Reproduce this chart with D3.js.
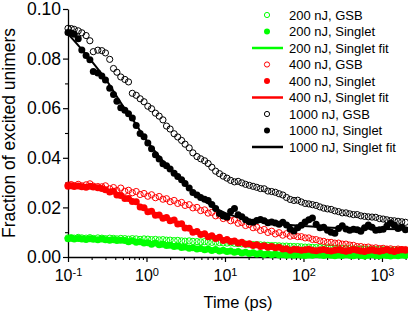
<!DOCTYPE html>
<html>
<head>
<meta charset="utf-8">
<script src="https://cdn.jsdelivr.net/npm/d3@7"></script>
<style>
body { margin: 0; background: #fff; }
svg text { font-family: Arial, "Liberation Sans", sans-serif; fill: #000; }
</style>
</head>
<body>
<svg id="chart" width="408" height="314"></svg>
<script>
// delay times (ps), shared by all measured series
const times = [0.10,0.11,0.12,0.135,0.15,0.17,0.19,0.21,0.24,0.27,0.30,0.34,0.38,0.42,0.47,0.53,0.59,0.66,0.74,0.83,
  0.93,1.04,1.16,1.3,1.45,1.62,1.8,2.0,2.25,2.5,2.8,3.1,3.5,3.9,4.4,4.9,5.5,6.1,6.8,7.6,
  8.5,9.5,10.6,11.8,13.2,14.7,16.4,18.3,20.4,22.8,25.4,28.3,31.6,35.2,39.3,43.8,48.9,54.5,60.8,67.8,
  75.6,84.3,94,105,117,130,145,162,181,202,225,251,280,312,348,388,433,483,538,600,
  670,747,833,929,1036,1155,1288,1437,1602,1787,1993];

const gsb200 = [0.0077,0.0078,0.0076,0.0079,0.0077,0.0076,0.0078,0.0075,0.0077,0.0076,
  0.0074,0.0076,0.0075,0.0073,0.0075,0.0074,0.0072,0.0074,0.0073,0.0071,
  0.0073,0.0072,0.0070,0.0071,0.0069,0.0070,0.0068,0.0068,0.0066,0.0067,
  0.0065,0.0064,0.0065,0.0063,0.0062,0.0061,0.0062,0.0060,0.0059,0.0060,
  0.0058,0.0057,0.0056,0.0057,0.0055,0.0054,0.0053,0.0052,0.0051,0.0050,
  0.0050,0.0049,0.0048,0.0047,0.0046,0.0046,0.0045,0.0044,0.0044,0.0043,
  0.0042,0.0042,0.0041,0.0040,0.0040,0.0039,0.0038,0.0038,0.0037,0.0037,
  0.0036,0.0035,0.0035,0.0034,0.0034,0.0033,0.0033,0.0032,0.0032,0.0031,
  0.0031,0.0030,0.0030,0.0029,0.0029,0.0029,0.0028,0.0028,0.0028,0.0027,0.0027];

const singlet200 = [0.0074,0.0076,0.0073,0.0075,0.0073,0.0071,0.0074,0.0072,0.0070,0.0073,
  0.0070,0.0068,0.0070,0.0067,0.0068,0.0067,0.0061,0.0066,0.0059,0.0061,
  0.0056,0.0057,0.0051,0.0056,0.0049,0.0051,0.0046,0.0047,0.0042,0.0044,
  0.0038,0.0040,0.0035,0.0037,0.0032,0.0034,0.0029,0.0032,0.0026,0.0030,
  0.0024,0.0027,0.0022,0.0024,0.0019,0.0022,0.0016,0.0019,0.0014,0.0017,
  0.0012,0.0015,0.0010,0.0013,0.0009,0.0012,0.0008,0.0010,0.0007,0.0009,
  0.0007,0.0009,0.0007,0.0006,0.0008,0.0007,0.0010,0.0008,0.0006,0.0009,
  0.0007,0.0005,0.0008,0.0006,0.0009,0.0007,0.0005,0.0008,0.0006,0.0004,
  0.0007,0.0009,0.0006,0.0005,0.0008,0.0006,0.0004,0.0007,0.0005,0.0008,0.0006];

const gsb400 = [0.0290,0.0292,0.0288,0.0293,0.0287,0.0291,0.0295,0.0286,0.0284,0.0283,
  0.0287,0.0275,0.0280,0.0268,0.0278,0.0265,0.0269,0.0259,0.0264,0.0252,
  0.0256,0.0245,0.0251,0.0239,0.0244,0.0233,0.0235,0.0223,0.0228,0.0216,
  0.0220,0.0208,0.0211,0.0198,0.0200,0.0187,0.0190,0.0177,0.0180,0.0166,
  0.0169,0.0155,0.0158,0.0146,0.0149,0.0136,0.0139,0.0127,0.0131,0.0118,
  0.0120,0.0107,0.0111,0.0099,0.0104,0.0093,0.0098,0.0088,0.0094,0.0084,
  0.0087,0.0082,0.0082,0.0077,0.0077,0.0071,0.0070,0.0065,0.0063,0.0059,
  0.0059,0.0056,0.0056,0.0052,0.0052,0.0048,0.0047,0.0042,0.0042,0.0039,
  0.0040,0.0036,0.0037,0.0034,0.0035,0.0032,0.0033,0.0030,0.0032,0.0029,0.0030];

const singlet400 = [0.0285,0.0287,0.0284,0.0286,0.0283,0.0281,0.0285,0.0282,0.0279,0.0276,
  0.0271,0.0262,0.0265,0.0250,0.0248,0.0236,0.0236,0.0224,0.0223,0.0202,
  0.0199,0.0182,0.0184,0.0168,0.0169,0.0156,0.0159,0.0146,0.0149,0.0133,
  0.0134,0.0117,0.0116,0.0100,0.0103,0.0091,0.0094,0.0082,0.0086,0.0075,
  0.0080,0.0067,0.0071,0.0062,0.0065,0.0056,0.0059,0.0051,0.0053,0.0046,
  0.0049,0.0042,0.0045,0.0039,0.0042,0.0037,0.0039,0.0032,0.0033,0.0027,
  0.0031,0.0030,0.0027,0.0029,0.0031,0.0027,0.0025,0.0028,0.0030,0.0026,
  0.0024,0.0027,0.0029,0.0026,0.0023,0.0026,0.0030,0.0027,0.0024,0.0022,
  0.0026,0.0028,0.0025,0.0023,0.0026,0.0029,0.0025,0.0022,0.0026,0.0030,0.0027];

const gsb1000 = [0.0922,0.0921,0.0918,0.0912,0.0904,0.0893,0.0872,0.0828,0.0834,0.0832,
  0.0823,0.0797,0.0760,0.0745,0.0726,0.0716,0.0706,0.0660,0.0652,0.0638,
  0.0626,0.0608,0.0598,0.0580,0.0568,0.0553,0.0528,0.0516,0.0497,0.0484,
  0.0470,0.0455,0.0440,0.0420,0.0405,0.0396,0.0388,0.0377,0.0362,0.0346,
  0.0336,0.0326,0.0318,0.0309,0.0303,0.0305,0.0299,0.0293,0.0289,0.0285,
  0.0281,0.0276,0.0275,0.0266,0.0264,0.0261,0.0255,0.0250,0.0240,0.0232,
  0.0228,0.0229,0.0222,0.0216,0.0214,0.0211,0.0208,0.0202,0.0197,0.0194,
  0.0192,0.0186,0.0183,0.0178,0.0178,0.0174,0.0171,0.0171,0.0166,0.0164,
  0.0162,0.0161,0.0160,0.0155,0.0153,0.0150,0.0147,0.0146,0.0144,0.0142,0.0140];

const singlet1000 = [0.0905,0.0903,0.0898,0.0880,0.0835,0.0812,0.0795,0.0748,0.0742,0.0730,
  0.0714,0.0680,0.0655,0.0628,0.0602,0.0592,0.0578,0.0560,0.0530,0.0498,
  0.0485,0.0460,0.0436,0.0412,0.0395,0.0376,0.0368,0.0355,0.0338,0.0325,
  0.0311,0.0296,0.0278,0.0260,0.0250,0.0240,0.0233,0.0228,0.0212,0.0196,
  0.0175,0.0165,0.0161,0.0183,0.0196,0.0170,0.0162,0.0150,0.0142,0.0140,
  0.0147,0.0151,0.0146,0.0138,0.0141,0.0137,0.0132,0.0140,0.0129,0.0112,
  0.0105,0.0118,0.0128,0.0141,0.0150,0.0157,0.0132,0.0118,0.0120,0.0108,
  0.0100,0.0096,0.0115,0.0126,0.0113,0.0108,0.0112,0.0110,0.0104,0.0118,
  0.0129,0.0120,0.0108,0.0110,0.0112,0.0125,0.0137,0.0128,0.0115,0.0120,0.0110];

const fitTimes = [0.1,0.2,0.3,0.5,0.7,1,1.5,2,3,5,7,10,15,20,30,50,100,200,500,1000,2000];
const fit200 = [0.0074,0.0073,0.0071,0.0066,0.0062,0.0056,0.0050,0.0046,0.0039,0.0033,0.0029,
  0.0025,0.0021,0.0017,0.0013,0.0010,0.0008,0.0007,0.0007,0.0007,0.0007];
const fit400 = [0.0286,0.0283,0.0272,0.0242,0.0223,0.0192,0.0167,0.0151,0.0124,0.0095,0.0083,
  0.0069,0.0060,0.0053,0.0044,0.0036,0.0029,0.0026,0.0025,0.0025,0.0025];
const fit1000 = [0.0900,0.0790,0.0718,0.0610,0.0545,0.0470,0.0400,0.0352,0.0295,0.0236,0.0203,
  0.0178,0.0160,0.0150,0.0141,0.0133,0.0125,0.0119,0.0115,0.0113,0.0112];

const yTicks = [0, 0.02, 0.04, 0.06, 0.08, 0.10];
const yMinorTicks = [0.01, 0.03, 0.05, 0.07, 0.09];
const xTicks = [0.1, 1, 10, 100, 1000];
const xExponents = ['-1', '0', '1', '2', '3'];

const legendLabels = ['200 nJ, GSB', '200 nJ, Singlet', '200 nJ, Singlet fit',
  '400 nJ, GSB', '400 nJ, Singlet', '400 nJ, Singlet fit',
  '1000 nJ, GSB', '1000 nJ, Singlet', '1000 nJ, Singlet fit'];

const svg = d3.select('#chart');
const plotLeft = 68, plotRight = 405.6, plotTop = 9, plotBottom = 257;

const x = d3.scaleLog().domain([0.1, 2000]).range([plotLeft, plotRight]);
const y = d3.scaleLinear().domain([0, 0.10]).range([plotBottom, plotTop]);

// minor x ticks (2..9 in each decade)
let xMinor = [];
[0.1, 1, 10, 100, 1000].forEach(d => {
    for (let k = 2; k <= 9; k++) {
        if (d * k <= 2000) xMinor.push(d * k);
    }
});

// ---- axes ----
svg.append('g')
    .attr('transform', `translate(0,${plotBottom})`)
    .call(d3.axisBottom(x).tickValues(xMinor).tickSize(3).tickSizeOuter(0).tickFormat(''))
    .call(g => g.select('.domain').remove())
    .selectAll('line').attr('stroke-width', 1.1);

let xAxisG = svg.append('g')
    .attr('transform', `translate(0,${plotBottom})`)
    .call(d3.axisBottom(x).tickValues(xTicks).tickSize(5).tickSizeOuter(0).tickPadding(8));
xAxisG.select('.domain').attr('stroke-width', 1.3);
xAxisG.selectAll('line').attr('stroke-width', 1.2);
xAxisG.selectAll('text')
    .text('')
    .attr('font-size', 16)
    .each(function (d, i) {
        let t = d3.select(this);
        t.append('tspan').text('10');
        t.append('tspan').attr('dy', '-0.5em').attr('font-size', 11).text(xExponents[i]);
    });

svg.append('g')
    .attr('transform', `translate(${plotLeft},0)`)
    .call(d3.axisLeft(y).tickValues(yMinorTicks).tickSize(3).tickSizeOuter(0).tickFormat(''))
    .call(g => g.select('.domain').remove())
    .selectAll('line').attr('stroke-width', 1.1);

let yAxisG = svg.append('g')
    .attr('transform', `translate(${plotLeft},0)`)
    .call(d3.axisLeft(y).tickValues(yTicks).tickSize(5).tickSizeOuter(0).tickPadding(2)
        .tickFormat(d3.format('.2f')));
yAxisG.select('.domain').attr('stroke-width', 1.3);
yAxisG.selectAll('line').attr('stroke-width', 1.2);
yAxisG.selectAll('text').attr('font-size', 17.5);

// axis titles
svg.append('text')
    .attr('x', 238).attr('y', 308)
    .attr('text-anchor', 'middle')
    .attr('font-size', 16.5)
    .text('Time (ps)');

svg.append('text')
    .attr('transform', 'rotate(-90)')
    .attr('x', -(plotTop + plotBottom) / 2).attr('y', 15)
    .attr('text-anchor', 'middle')
    .attr('font-size', 17.5)
    .text('Fraction of excited unimers');

// ---- data ----
const series = [
    { values: gsb200, color: '#00ff00', filled: false },
    { values: singlet200, color: '#00ff00', filled: true },
    { fit: fit200, color: '#00ff00' },
    { values: gsb400, color: '#ff0000', filled: false },
    { values: singlet400, color: '#ff0000', filled: true },
    { fit: fit400, color: '#ff0000' },
    { values: gsb1000, color: '#000000', filled: false },
    { values: singlet1000, color: '#000000', filled: true },
    { fit: fit1000, color: '#000000' }
];

const fitLine = d3.line()
    .x(d => x(d[0]))
    .y(d => y(d[1]))
    .curve(d3.curveMonotoneX);

let plot = svg.append('g');
series.forEach(s => {
    if (s.fit) {
        plot.append('path')
            .datum(fitTimes.map((t, i) => [t, s.fit[i]]))
            .attr('d', fitLine)
            .attr('fill', 'none')
            .attr('stroke', s.color)
            .attr('stroke-width', 2);
    } else {
        plot.append('g')
            .selectAll('circle')
            .data(times.map((t, i) => [t, s.values[i]]))
            .join('circle')
            .attr('cx', d => x(d[0]))
            .attr('cy', d => y(d[1]))
            .attr('r', s.filled ? 3.5 : 3.1)
            .attr('fill', s.filled ? s.color : 'none')
            .attr('stroke', s.color)
            .attr('stroke-width', s.filled ? 0 : 1);
    }
});

// ---- legend ----
let legend = svg.append('g');
let rows = legend.selectAll('g')
    .data(series)
    .join('g')
    .attr('transform', (d, i) => `translate(0,${15 + i * 16.5})`);

rows.filter(d => d.fit)
    .append('line')
    .attr('x1', 252).attr('x2', 283)
    .attr('stroke', d => d.color)
    .attr('stroke-width', 2.5);

rows.filter(d => !d.fit)
    .append('circle')
    .attr('cx', 267)
    .attr('r', d => d.filled ? 3 : 2.6)
    .attr('fill', d => d.filled ? d.color : 'none')
    .attr('stroke', d => d.color)
    .attr('stroke-width', d => d.filled ? 0 : 1);

rows.append('text')
    .attr('x', 289)
    .attr('y', 4.5)
    .attr('font-size', 13)
    .text((d, i) => legendLabels[i]);
</script>
</body>
</html>
